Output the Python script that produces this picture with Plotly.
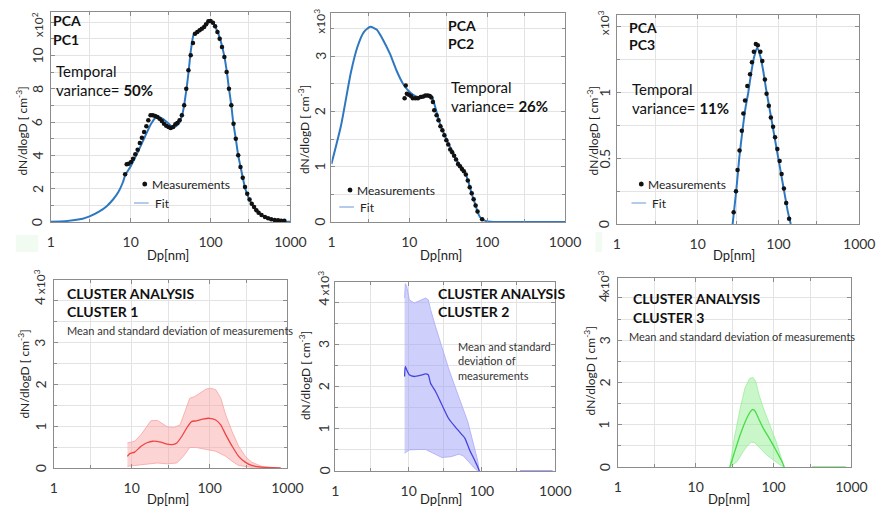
import plotly.graph_objects as go

W, H = 886, 508
FONT = "Lato"

# ---------------- data ----------------
# PC1 (units of 10^2)
fit1_x = [1, 1.5, 2, 2.5, 3, 4, 5, 6, 7, 8, 8.5, 10, 12, 15, 18, 21, 25, 30, 34, 40, 45, 50, 53, 57, 62, 70, 80, 90,
          98, 108, 115, 125, 135, 148, 160, 170, 182, 192, 207, 222, 245, 272, 300, 335, 370, 417, 480, 560, 640, 800, 1000]
fit1_y = [0.02, 0.05, 0.12, 0.2, 0.32, 0.62, 0.95, 1.35, 1.8, 2.4, 2.8, 3.35, 4.1, 5.1, 5.9, 6.3, 6.2, 5.9, 5.65, 5.9, 6.6, 8.0,
          9.0, 10.4, 11.3, 11.45, 11.65, 11.85, 12.05, 11.95, 11.7, 11.3, 10.8, 10.0, 9.0, 8.0, 7.0, 6.0, 5.0, 4.0, 3.0,
          2.0, 1.45, 1.0, 0.7, 0.48, 0.3, 0.16, 0.09, 0.03, 0.01]
meas1_x = [8.5, 8.9, 9.4, 10.1, 10.7, 11.4, 12.2, 13.0, 13.8, 14.7, 15.7, 16.6, 17.7, 18.9, 20.2, 21.6, 23.0, 24.5,
           26.1, 27.8, 29.7, 31.7, 33.9, 36.2, 38.3, 40.9, 43.7, 46.7, 49.6, 52.8, 56.4, 60.2, 63.8, 68.2, 72.9, 77.7,
           83.0, 87.8, 93.8, 100.1, 107, 114, 122, 130, 139, 149, 159, 170, 182, 194, 207, 222, 237, 253, 270, 288,
           308, 328, 351, 375, 400, 435, 480, 525, 575, 635, 700, 765, 840]
meas1_y = [2.86, 3.46, 3.5, 3.6, 3.8, 4.06, 4.34, 4.74, 5.06, 5.4, 5.74, 6.1, 6.4, 6.4, 6.36, 6.3, 6.2, 6.06, 5.9, 5.78,
           5.7, 5.64, 5.7, 5.86, 5.94, 6.1, 6.4, 7.0, 8.0, 9.1, 10.0, 10.74, 11.3, 11.4, 11.5, 11.6, 11.7, 11.86, 12.04,
           12.06, 11.95, 11.75, 11.4, 11.0, 10.5, 9.9, 9.0, 8.0, 7.0, 5.9, 5.0, 4.0, 3.3, 2.65, 2.1, 1.7, 1.35, 1.1, 0.9,
           0.7, 0.55, 0.42, 0.3, 0.22, 0.16, 0.12, 0.1, 0.08, 0.07]

# PC2 (units of 10^3)
fit2_x = [1, 1.33, 1.78, 2.16, 2.62, 3.17, 3.8, 4.66, 5.65, 6.85, 8.3, 10.1, 12.2, 14.8, 17, 18.8, 20.1, 21.7, 25, 30,
          35, 40, 45, 50, 53, 57, 60, 63, 67, 71, 75, 80, 86, 95, 110, 150, 300, 1000]
fit2_y = [1.05, 1.75, 2.71, 3.17, 3.44, 3.53, 3.48, 3.28, 3.04, 2.74, 2.5, 2.35, 2.27, 2.25, 2.28, 2.28, 2.22, 2.06,
          1.76, 1.5, 1.3, 1.14, 1.02, 0.93, 0.86, 0.74, 0.63, 0.52, 0.41, 0.3, 0.19, 0.1, 0.05, 0.02, 0.005, 0, 0, 0]
meas2_x = [8.7, 9.0, 9.3, 9.9, 10.5, 11.1, 12.0, 12.9, 14.0, 15.1, 16.1, 17.3, 18.3, 19.2, 20.1, 20.9, 22.4, 23.7,
           25.1, 26.6, 28.2, 29.9, 31.6, 33.5, 35.5, 37.6, 39.8, 42.2, 44.8, 47.4, 50.2, 53.2, 56.4, 59.7, 63.3, 67.0,
           71.0, 75.2, 86.1]
meas2_y = [2.24, 2.47, 2.32, 2.3, 2.28, 2.24, 2.24, 2.24, 2.26, 2.27, 2.29, 2.29, 2.28, 2.25, 2.17, 2.02, 1.93, 1.84,
           1.73, 1.66, 1.57, 1.48, 1.4, 1.31, 1.26, 1.2, 1.13, 1.05, 1.01, 0.96, 0.92, 0.86, 0.75, 0.63, 0.52, 0.41,
           0.3, 0.19, 0.05]

# PC3 (units of 10^3)
fit3_x = [27.1, 30, 32.7, 36, 39, 42.3, 46, 50, 54.5, 60, 65, 70.6, 78, 85, 92, 99.6, 110, 120, 130, 142]
fit3_y = [0, 0.25, 0.5, 0.72, 0.88, 1.0, 1.15, 1.27, 1.34, 1.27, 1.16, 1.02, 0.87, 0.74, 0.62, 0.5, 0.35, 0.22, 0.1, 0]
meas3_x = [27.9, 29.8, 31.2, 33.0, 35.2, 36.8, 38.6, 41.2, 44.5, 47.0, 49.6, 52.5, 55.5, 59.7, 63.1, 68.0, 71.3, 76.0,
           80.5, 85.8, 90.8, 96.9, 103.4, 109.4, 116.8, 124.7, 135.5]
meas3_y = [0.09, 0.25, 0.41, 0.56, 0.71, 0.84, 0.94, 1.05, 1.14, 1.23, 1.31, 1.37, 1.36, 1.31, 1.24, 1.1, 0.99, 0.9,
           0.81, 0.74, 0.66, 0.57, 0.48, 0.38, 0.27, 0.16, 0.04]

# Cluster 1 (units of 10^3)
c1_x = [8.8, 9.4, 10.9, 13.2, 16, 18.5, 23.5, 28.4, 32.9, 38, 44, 50.5, 58.5, 67.6, 82, 99, 120, 139, 161, 195, 236,
        287, 347, 465, 820]
c1_mean = [0.28, 0.34, 0.38, 0.52, 0.61, 0.64, 0.62, 0.57, 0.56, 0.6, 0.76, 0.95, 1.11, 1.13, 1.17, 1.19, 1.15, 1.03,
           0.8, 0.52, 0.28, 0.14, 0.06, 0.02, 0.0]
c1_up_x = [8.8, 10.9, 13.2, 16, 17.6, 21.3, 24.6, 28.4, 34.4, 41.7, 48.3, 55.7, 64.4, 74.6, 90.4, 104.3, 120.7,
           139.5, 161, 195, 236, 287, 347, 465, 700]
c1_up = [0.6, 0.64, 0.8, 1.03, 1.13, 1.14, 1.07, 0.99, 0.97, 1.03, 1.35, 1.67, 1.71, 1.79, 1.89, 1.91, 1.87, 1.67,
         1.27, 0.87, 0.52, 0.28, 0.14, 0.04, 0.0]
c1_lo_x = [8.8, 10.9, 16, 21.3, 28.4, 38, 46, 55.7, 67.6, 90.4, 120.7, 161, 195, 236, 330, 700]
c1_lo = [0.04, 0.06, 0.1, 0.12, 0.1, 0.12, 0.28, 0.49, 0.49, 0.44, 0.4, 0.28, 0.16, 0.06, 0.02, 0.0]

# Cluster 2 (units of 10^3)
c2_x = [8.8, 9.0, 9.4, 10.2, 11.9, 14.6, 17.0, 18.5, 19.9, 23.2, 28.4, 34.9, 42.9, 52.7, 58.4, 67.8, 79.2, 89.4, 92]
c2_mean = [2.24, 2.48, 2.4, 2.28, 2.24, 2.27, 2.3, 2.28, 2.08, 1.89, 1.57, 1.25, 1.05, 0.87, 0.78, 0.5, 0.26, 0.06, 0]
c2_up_x = [8.8, 9.0, 9.4, 10.2, 11.9, 14.6, 17.0, 18.5, 19.9, 23.2, 28.4, 34.9, 42.9, 52.7, 64.0, 74.0, 87.0, 92]
c2_up = [4.1, 4.44, 4.38, 4.06, 3.98, 4.06, 4.1, 4.06, 3.83, 3.43, 2.91, 2.44, 2.0, 1.57, 1.17, 0.74, 0.26, 0]
c2_lo_x = [8.8, 10.2, 14.0, 17.0, 21.5, 28.4, 38.0, 48.5, 55.5, 69.0, 81.7, 92]
c2_lo = [0.42, 0.5, 0.51, 0.51, 0.42, 0.32, 0.34, 0.4, 0.36, 0.18, 0.04, 0]
c2_tail_x = [330, 920]
c2_tail_y = [0, 0]

# Cluster 3 (units of 10^3)
c3_x = [27.5, 30.8, 37.4, 45.5, 51, 54.2, 57.9, 63.7, 73.6, 84.9, 98, 113, 128, 137]
c3_mean = [0, 0.29, 0.77, 1.16, 1.32, 1.36, 1.32, 1.16, 0.92, 0.73, 0.53, 0.32, 0.13, 0]
c3_up_x = [27.5, 30.8, 37.4, 43, 49, 54.2, 58.8, 65, 73.6, 88.6, 107.5, 124, 137]
c3_up = [0, 0.61, 1.4, 1.87, 2.09, 2.12, 2.03, 1.71, 1.4, 1.0, 0.61, 0.25, 0]
c3_lo_x = [27.5, 34, 41, 47.4, 52.3, 57.9, 66.5, 80.7, 98, 118.8, 137]
c3_lo = [0, 0.13, 0.37, 0.53, 0.59, 0.57, 0.45, 0.29, 0.17, 0.06, 0]
c3_tail_x = [310, 850]
c3_tail_y = [0, 0]

x_ticks = [1, 10, 100, 1000]
x_ticktext = ["1", "10", "100", "1000"]
x_minor = [3, 30, 300]

# ---------------- layout helpers ----------------
def fx(p):
    return p / W

def fy(p):
    return 1 - p / H

# (left, right, top, bottom) px, y max, tick values, tick text, minor step, tick-label x, multiplier (x, y, text)
panels = [
    ((48, 293, 12, 222), 12.6, [0, 2, 4, 6, 8, 10, 12], ["0", "2", "4", "6", "8", "10", ""], 1, 34,
     (35, 25, "x10<sup>2</sup>")),
    ((335, 574, 13, 222), 3.78, [0, 1, 2, 3], ["0", "1", "2", "3"], 0.5, 323, (323, 21, "x10<sup>3</sup>")),
    ((627, 875, 15, 224), 1.59, [0, 0.5, 1, 1.5], ["0", "0.5", "1", ""], 0.25, 614, (614, 23, "x10<sup>3</sup>")),
    ((51, 290, 280, 468), 4.5, [0, 1, 2, 3, 4], ["0", "1", "2", "3", "4"], 0.5, 37, (37, 282, "x10<sup>3</sup>")),
    ((339, 564, 282, 471), 4.48, [0, 1, 2, 3, 4], ["0", "1", "2", "3", "4"], 0.5, 327, (327, 283, "x10<sup>3</sup>")),
    ((628, 867, 278, 467), 4.47, [0, 1, 2, 3, 4], ["0", "1", "2", "3", "4"], 0.5, 614, (614, 283, "x10<sup>3</sup>")),
]

fig = go.Figure()
layout = dict(
    width=W, height=H, margin=dict(l=0, r=0, t=0, b=0),
    paper_bgcolor="white", plot_bgcolor="white", showlegend=False,
    font=dict(family=FONT, color="#222"),
)
GRID = "#e3e3e3"
FRAME = "#8c8c8c"
ann = []

def text(x, y, s, size=14, bold=False, xanchor="left", angle=0, color="#111", yref=None):
    if bold:
        s = "<b>" + s + "</b>"
    if xanchor == "left":
        x -= 3
    ann.append(dict(x=fx(x), y=(fy(y) if yref is None else y), xref="paper", yref=(yref or "paper"), text=s,
                    showarrow=False, xanchor=xanchor, yanchor="middle", textangle=angle,
                    font=dict(family=FONT, size=size, color=color)))

for i, (box, ymax, tv, tt, mstep, tlx, mult) in enumerate(panels, start=1):
    l, r, t, b = box
    sfx = "" if i == 1 else str(i)
    layout["xaxis" + sfx] = dict(
        domain=[fx(l), fx(r)], anchor="y" + sfx, type="log", range=[0, 3],
        tickmode="array", tickvals=x_ticks, ticktext=x_ticktext,
        showgrid=True, gridcolor=GRID, gridwidth=1,
        minor=dict(tickmode="array", tickvals=x_minor, showgrid=True, gridcolor=GRID,
                   ticks="inside", ticklen=3, tickcolor=FRAME),
        ticks="inside", ticklen=4, tickcolor=FRAME,
        showline=True, linecolor=FRAME, linewidth=1, mirror="ticks",
        tickfont=dict(size=14, color="#333", family=FONT), zeroline=False,
        ticklabelstandoff=7,
    )
    layout["yaxis" + sfx] = dict(
        domain=[fy(b), fy(t)], anchor="x" + sfx, range=[0, ymax],
        tickmode="array", tickvals=tv, showticklabels=False,
        showgrid=True, gridcolor=GRID, gridwidth=1,
        minor=dict(dtick=mstep, showgrid=True, gridcolor=GRID, ticks="inside", ticklen=3, tickcolor=FRAME),
        ticks="inside", ticklen=4, tickcolor=FRAME,
        showline=True, linecolor=FRAME, linewidth=1, mirror="ticks", zeroline=False,
    )
    # y tick labels, rotated, positioned on the axis scale
    for v, s in zip(tv, tt):
        if s:
            text(tlx, v, s, 14, xanchor="center", angle=-90, color="#333", yref="y" + sfx)
    text(mult[0], mult[1], mult[2], 12, xanchor="center", angle=-90, color="#333")

FITC = "#2e78c2"

def add_pca(i, fx_, fy_, mx, my):
    sfx = "" if i == 1 else str(i)
    fig.add_trace(go.Scatter(x=fx_, y=fy_, mode="lines", line=dict(color=FITC, width=2, shape="spline", smoothing=0.6),
                             xaxis="x" + sfx, yaxis="y" + sfx, hoverinfo="skip"))
    fig.add_trace(go.Scatter(x=mx, y=my, mode="markers", marker=dict(color="#111", size=4.5),
                             xaxis="x" + sfx, yaxis="y" + sfx, hoverinfo="skip"))

add_pca(1, fit1_x, fit1_y, meas1_x, meas1_y)
add_pca(2, fit2_x, fit2_y, meas2_x, meas2_y)
add_pca(3, fit3_x, fit3_y, meas3_x, meas3_y)

def add_cluster(i, x, mean, ux, up, lx, lo, fill, edge, linec, tail=None):
    sfx = str(i)
    fig.add_trace(go.Scatter(x=ux + lx[::-1], y=up + lo[::-1], mode="lines", fill="toself", fillcolor=fill,
                             line=dict(color=edge, width=0.8), xaxis="x" + sfx, yaxis="y" + sfx, hoverinfo="skip"))
    fig.add_trace(go.Scatter(x=x, y=mean, mode="lines", line=dict(color=linec, width=1.3, shape="spline", smoothing=0.5),
                             xaxis="x" + sfx, yaxis="y" + sfx, hoverinfo="skip"))
    if tail:
        fig.add_trace(go.Scatter(x=tail[0], y=tail[1], mode="lines", line=dict(color=edge, width=2),
                                 xaxis="x" + sfx, yaxis="y" + sfx, hoverinfo="skip"))

add_cluster(4, c1_x, c1_mean, c1_up_x, c1_up, c1_lo_x, c1_lo, "rgba(250,160,160,0.45)", "#f6a3a3", "#ee4444")
add_cluster(5, c2_x, c2_mean, c2_up_x, c2_up, c2_lo_x, c2_lo, "rgba(160,160,250,0.5)", "#a8a8f8", "#4444e0",
            (c2_tail_x, c2_tail_y))
add_cluster(6, c3_x, c3_mean, c3_up_x, c3_up, c3_lo_x, c3_lo, "rgba(150,240,150,0.5)", "#9cee9c", "#44dd44",
            (c3_tail_x, c3_tail_y))

# PCA labels
text(51, 20, "PCA", 14, True); text(51, 40, "PC1", 14, True)
text(54, 71, "Temporal", 15); text(54, 90, "variance= <b>50%</b>", 15)
text(455, 25, "PCA", 14, True); text(455, 44, "PC2", 14, True)
text(458, 87, "Temporal", 15); text(458, 106, "variance= <b>26%</b>", 15)
text(640, 27, "PCA", 14, True); text(640, 45, "PC3", 14, True)
text(643, 89, "Temporal", 15); text(643, 108, "variance= <b>11%</b>", 15)

# PCA legends
legend_pos = [(144, 184, 133, 203), (354, 190, 343, 207), (652, 184, 642, 203)]
shapes = []
for dx, dy, lx, ly in legend_pos:
    shapes.append(dict(type="circle", xref="paper", yref="paper", x0=fx(dx - 2.5), x1=fx(dx + 2.5),
                       y0=fy(dy + 2.5), y1=fy(dy - 2.5), fillcolor="#111", line=dict(width=0)))
    shapes.append(dict(type="line", xref="paper", yref="paper", x0=fx(lx), x1=fx(lx + 15), y0=fy(ly), y1=fy(ly),
                       line=dict(color="#6a96d8", width=1)))
    text(dx + 8, dy, "Measurements", 12, color="#222")
    text(lx + 22, ly + 1, "Fit", 12, color="#222")

# Cluster labels
text(65, 293, "CLUSTER ANALYSIS", 14, True); text(65, 311, "CLUSTER 1", 14, True)
text(65, 330, "Mean and standard deviation of measurements", 11, color="#333")
text(445, 293, "CLUSTER ANALYSIS", 14, True); text(445, 311, "CLUSTER 2", 14, True)
text(465, 346, "Mean and standard", 11, color="#333")
text(465, 360, "deviation of", 11, color="#333")
text(465, 375, "measurements", 11, color="#333")
text(644, 298, "CLUSTER ANALYSIS", 14, True); text(644, 317, "CLUSTER 3", 14, True)
text(640, 336, "Mean and standard deviation of measurements", 11, color="#333")

# axis titles
ylab = "dN/dlogD [ cm<sup>-3</sup>]"
for x, y in [(18, 131), (307, 130), (603, 131), (20, 374), (308, 376), (600, 371)]:
    text(x, y, ylab, 12, xanchor="center", angle=-90, color="#222")
for x, y in [(168, 255), (447, 255), (747, 255), (168, 499), (447, 499), (742, 499)]:
    text(x, y, "Dp[nm]", 13, xanchor="center", color="#222")

# faint artefacts
shapes.append(dict(type="rect", xref="paper", yref="paper", x0=fx(12), x1=fx(35), y0=fy(252), y1=fy(235),
                   fillcolor="#f1fbf1", line=dict(width=0), layer="below"))
shapes.append(dict(type="rect", xref="paper", yref="paper", x0=fx(605), x1=fx(612), y0=fy(252), y1=fy(232),
                   fillcolor="#f1fbf1", line=dict(width=0), layer="below"))

layout["annotations"] = ann
layout["shapes"] = shapes
fig.update_layout(**layout)
fig.write_html("out.html")
